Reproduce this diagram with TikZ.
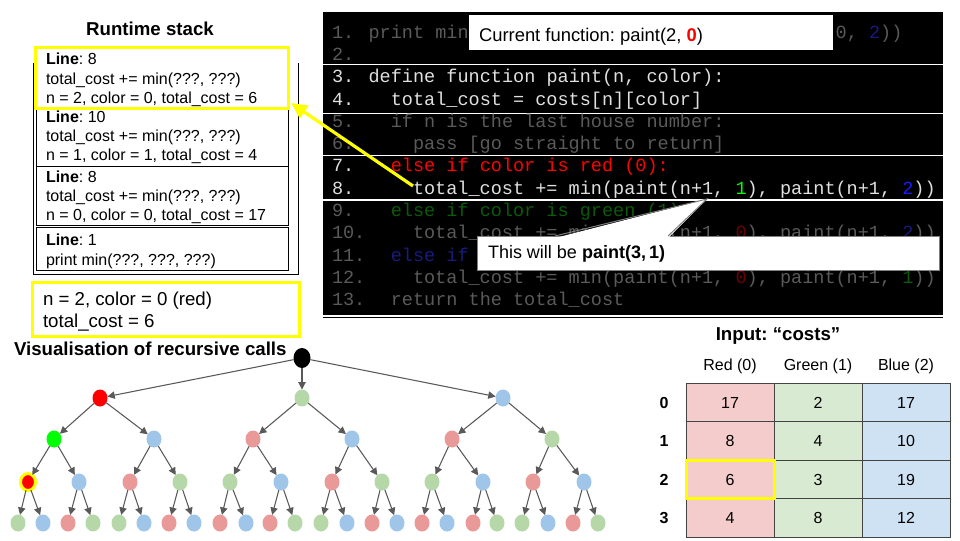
\documentclass[tikz,border=0pt]{standalone}
\usepackage{fontspec}
\setmainfont{Liberation Sans}
\newfontfamily\codefont{Liberation Mono}
\usetikzlibrary{arrows.meta,shapes.geometric,calc}
\frenchspacing

% palette
\definecolor{hl}{HTML}{FFFF00}
\definecolor{codeW}{HTML}{E0E0E0}
\definecolor{codeD}{HTML}{5A5A5A}
\definecolor{dRed}{HTML}{6E0000}
\definecolor{dGreen}{HTML}{0A5A0A}
\definecolor{dBlue}{HTML}{1A1A80}
\definecolor{bRed}{HTML}{FF0000}
\definecolor{bGreen}{HTML}{00FF00}
\definecolor{bBlue}{HTML}{1A1AFF}
\definecolor{trl}{HTML}{EA9999}
\definecolor{tgl}{HTML}{B6D7A8}
\definecolor{tbl}{HTML}{9FC5E8}
\definecolor{cR}{HTML}{F4CCCC}
\definecolor{cG}{HTML}{D9EAD3}
\definecolor{cB}{HTML}{CFE2F3}
\definecolor{gridc}{HTML}{434343}
\definecolor{arrowc}{HTML}{595959}
\definecolor{calloutc}{HTML}{7F7F7F}

\tikzset{
  every node/.style={inner sep=0pt, outer sep=0pt},
  code/.style={anchor=base west, font=\codefont\fontsize{13.9pt}{16pt}\selectfont\frenchspacing},
  stacktxt/.style={anchor=base west, font=\fontsize{12pt}{14pt}\selectfont},
  bigtxt/.style={anchor=base west, font=\fontsize{14pt}{16pt}\selectfont},
  title/.style={font=\bfseries\fontsize{14pt}{16pt}\selectfont},
  frame/.style={draw=black, line width=0.75pt, anchor=north west, minimum width=189pt},
  hlbox/.style={draw=hl, line width=2.25pt, anchor=north west},
  block/.style={fill=black},
  tn/.style={ellipse, minimum width=11.25pt, minimum height=12.75pt},
  tarrow/.style={draw=arrowc, line width=0.8pt, -{Triangle[length=5.5pt,width=5.5pt]}},
  yarrow/.style={draw=hl, line width=2.4pt, -{Triangle[length=12pt,width=11pt]}},
  cell/.style={draw=gridc, line width=0.75pt, minimum width=66pt, minimum height=28.75pt, font=\fontsize{12pt}{14pt}\selectfont},
  rowlab/.style={font=\bfseries\fontsize{12pt}{14pt}\selectfont},
  colhead/.style={anchor=base, font=\fontsize{12pt}{14pt}\selectfont},
}

\begin{document}
\begin{tikzpicture}[x=0.75pt, y=-0.75pt]
\useasboundingbox (0,0) rectangle (960,540);

% ---------------- runtime stack ----------------
\node[title, anchor=base] (stitle) at (150,35) {Runtime stack};
\draw[line width=0.75pt] (33.5,63) -- (33.5,274) -- (298,274) -- (298,63);

\node[frame, minimum width=189pt, minimum height=43.5pt] (f2) at (36,108) {};
\node[frame, minimum width=189pt, minimum height=44.25pt] (f3) at (36,166) {};
\node[frame, minimum width=189pt, minimum height=32.25pt] (f4) at (36,227) {};
\node[hlbox, minimum width=189.75pt, minimum height=45.75pt] (f1) at (35,47) {};

\node[stacktxt] (f1a) at (46,64.7) {\textbf{Line}: 8};
\node[stacktxt] (f1b) at (46,84.2) {total\_cost += min(???, ???)};
\node[stacktxt] (f1c) at (46,103.2) {n = 2, color = 0, total\_cost = 6};

\node[stacktxt] (f2a) at (46,122.5) {\textbf{Line}: 10};
\node[stacktxt] (f2b) at (46,141.8) {total\_cost += min(???, ???)};
\node[stacktxt] (f2c) at (46,160.8) {n = 1, color = 1, total\_cost = 4};

\node[stacktxt] (f3a) at (46,182.3) {\textbf{Line}: 8};
\node[stacktxt] (f3b) at (46,201.3) {total\_cost += min(???, ???)};
\node[stacktxt] (f3c) at (46,220.7) {n = 0, color = 0, total\_cost = 17};

\node[stacktxt] (f4a) at (46,245.7) {\textbf{Line}: 1};
\node[stacktxt] (f4b) at (46,265) {print min(???, ???, ???)};

% current values
\node[hlbox, minimum width=200.25pt, minimum height=40.5pt] (vals) at (32,282) {};
\node[bigtxt] (valsa) at (43,305) {n = 2, color = 0 (red)};
\node[bigtxt] (valsb) at (43,327) {total\_cost = 6};

% ---------------- pseudo-code listing ----------------
\fill[block] (322.5,12) rectangle (943,63.5);
\fill[block] (322.5,65) rectangle (943,112.5);
\fill[block] (322.5,114) rectangle (943,154.5);
\fill[block] (322.5,156) rectangle (943,199);
\fill[block] (322.5,200.5) rectangle (943,315);
\draw[line width=0.8pt] (322.5,317.3) -- (943,317.3);

% line numbers
\node[code, text=codeD] (n1) at (332,38.2) {1.};
\node[code, text=codeD] (n2) at (332,60.5) {2.};
\node[code, text=codeW] (n3) at (332,82.8) {3.};
\node[code, text=codeW] (n4) at (332,105.0) {4.};
\node[code, text=codeD] (n5) at (332,127.3) {5.};
\node[code, text=codeD] (n6) at (332,149.6) {6.};
\node[code, text=codeW] (n7) at (332,171.9) {7.};
\node[code, text=codeW] (n8) at (332,194.2) {8.};
\node[code, text=codeD] (n9) at (332,216.4) {9.};
\node[code, text=codeD] (n10) at (332,238.7) {10.};
\node[code, text=codeD] (n11) at (332,261.0) {11.};
\node[code, text=codeD] (n12) at (332,283.3) {12.};
\node[code, text=codeD] (n13) at (332,305.6) {13.};

% code text (indent step: two characters)
\node[code, text=codeD] (c1) at (368.6,38.2) {print min(paint(0, \textcolor{dRed}{0}), paint(0, \textcolor{dGreen}{1}), paint(0, \textcolor{dBlue}{2}))};
\node[code, text=codeW] (c3) at (368.6,82.8) {define function paint(n, color):};
\node[code, text=codeW] (c4) at (390.8,105.0) {total\_cost = costs[n][color]};
\node[code, text=codeD] (c5) at (390.8,127.3) {if n is the last house number:};
\node[code, text=codeD] (c6) at (413,149.6) {pass [go straight to return]};
\node[code, text=bRed] (c7) at (390.8,171.9) {else if color is red (0):};
\node[code, text=codeW] (c8) at (413,194.2) {total\_cost += min(paint(n+1, \textcolor{bGreen}{1}), paint(n+1, \textcolor{bBlue}{2}))};
\node[code, text=dGreen] (c9) at (390.8,216.4) {else if color is green (1):};
\node[code, text=codeD] (c10) at (413,238.7) {total\_cost += min(paint(n+1, \textcolor{dRed}{0}), paint(n+1, \textcolor{dBlue}{2}))};
\node[code, text=dBlue] (c11) at (390.8,261.0) {else if color is blue (2):};
\node[code, text=codeD] (c12) at (413,283.3) {total\_cost += min(paint(n+1, \textcolor{dRed}{0}), paint(n+1, \textcolor{dGreen}{1}))};
\node[code, text=codeD] (c13) at (390.8,305.6) {return the total\_cost};

% callout: current function
\node[fill=white, anchor=north west, minimum width=273pt, minimum height=26.25pt] (cur) at (469,15) {};
\node[anchor=base west, font=\fontsize{13.8pt}{16pt}\selectfont] (curtxt) at (479,41)
  {Current function: paint(2, \textcolor{bRed}{\textbf{0}})};

% callout: next call
\node[fill=white, draw=calloutc, line width=0.75pt, anchor=north west, minimum width=346.5pt, minimum height=25.5pt] (nxt) at (477,236) {};
\coordinate (ptip) at (707,199);
\coordinate (pl) at (555,236);
\coordinate (pr) at (668,236);
\fill[white] ($(pl)+(0,2)$) -- (ptip) -- ($(pr)+(0,2)$) -- cycle;
\draw[calloutc, line width=0.75pt] (pl) -- (ptip) -- (pr);
\node[anchor=base west, font=\fontsize{13.5pt}{16pt}\selectfont] (nxttxt) at (488,258.3)
  {This will be \textbf{paint(3,\,1)}};

% pointer from line 8 to the top stack frame
\coordinate (ystart) at (413,186);
\coordinate (ytip) at ($(f1.south east)+(3,-5)$);
\draw[yarrow] (ystart) -- (ytip);

% ---------------- recursion tree ----------------
\node[title, anchor=base west] (ttitle) at (14,355) {Visualisation of recursive calls};

\node[tn, fill=black, minimum width=12.75pt, minimum height=15pt] (root) at (302,358) {};

\node[tn, fill=bRed] (q1) at (100,398) {};
\node[tn, fill=tgl] (q2) at (302,398) {};
\node[tn, fill=tbl] (q3) at (503,398) {};

\node[tn, fill=bGreen] (p1) at (54,439) {};
\node[tn, fill=tbl] (p2) at (154,439) {};
\node[tn, fill=trl] (p3) at (253,439) {};
\node[tn, fill=tbl] (p4) at (352,439) {};
\node[tn, fill=trl] (p5) at (452,439) {};
\node[tn, fill=tgl] (p6) at (552,439) {};

\node[tn, fill=bRed, draw=hl, line width=2.25pt] (m1) at (28,482) {};
\foreach \x/\c [count=\i from 2] in {79/tbl,130/trl,180/tgl,230/tgl,281/tbl,332/trl,382/tgl,432/tgl,483/tbl,533/trl,584/tbl}
  \node[tn, fill=\c] (m\i) at (\x,482) {};

\foreach \x/\c [count=\i] in {18/tgl,43/tbl,68/trl,93/tgl,119/tgl,144/tbl,169/trl,194/tbl,220/trl,246/tbl,270/trl,295/tgl,
    321/tgl,347/tbl,372/trl,397/tbl,422/trl,447/tbl,473/trl,497/tgl,522/tgl,548/tbl,573/trl,598/tgl}
  \node[tn, fill=\c] (k\i) at (\x,523) {};

\foreach \i in {1,2,3} \draw[tarrow] (root) -- (q\i);
\foreach \i in {1,...,6} {\pgfmathtruncatemacro\pidx{(\i+1)/2}\draw[tarrow] (q\pidx) -- (p\i);}
\foreach \i in {1,...,12} {\pgfmathtruncatemacro\pidx{(\i+1)/2}\draw[tarrow] (p\pidx) -- (m\i);}
\foreach \i in {1,...,24} {\pgfmathtruncatemacro\pidx{(\i+1)/2}\draw[tarrow] (m\pidx) -- (k\i);}

% ---------------- costs table ----------------
\node[title, anchor=base] (intitle) at (778,340.7) {Input: “costs”};
\node[colhead] (h0) at (730,370) {Red (0)};
\node[colhead] (h1) at (818,370) {Green (1)};
\node[colhead] (h2) at (906,370) {Blue (2)};

\foreach \y/\a/\b/\c [count=\r from 0] in {402.5/17/2/17, 441/8/4/10, 479.5/6/3/19, 518/4/8/12} {
  \node[rowlab] (r\r) at (664,\y) {\r};
  \node[cell, fill=cR] (t\r0) at (730,\y) {\a};
  \node[cell, fill=cG] (t\r1) at (818,\y) {\b};
  \node[cell, fill=cB] (t\r2) at (906,\y) {\c};
}
\node[draw=hl, line width=2.25pt, minimum width=66pt, minimum height=28.75pt] (sel) at (t20.center) {};

\end{tikzpicture}
\end{document}
